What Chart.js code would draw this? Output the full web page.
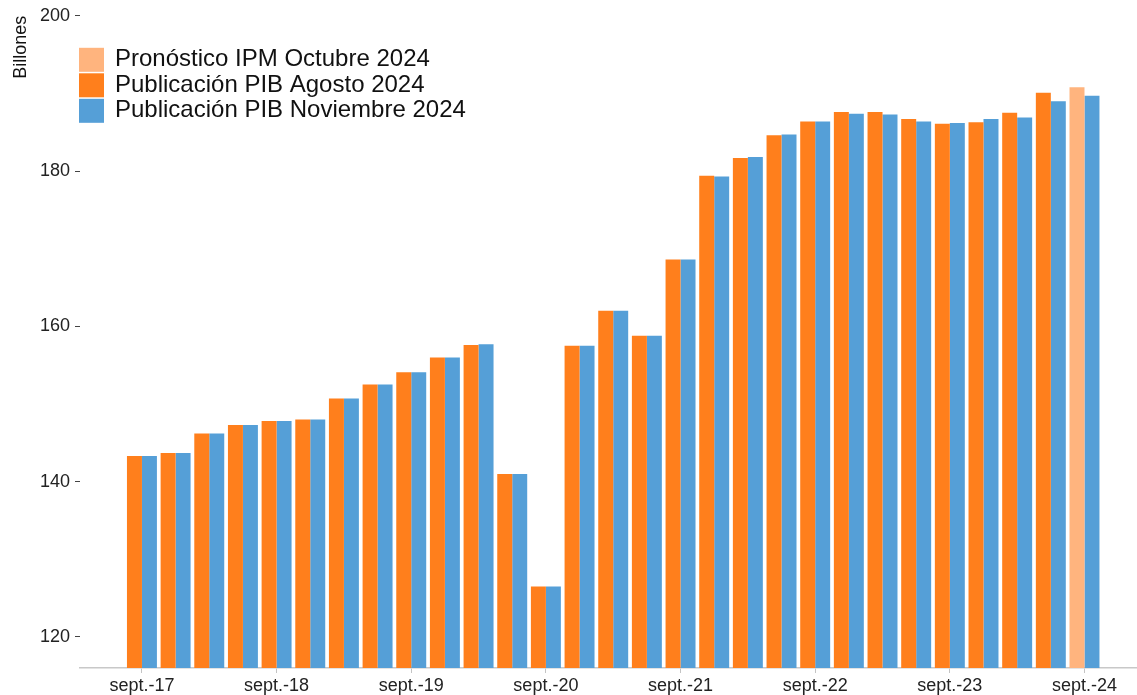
<!DOCTYPE html>
<html>
<head>
<meta charset="utf-8">
<script src="https://cdn.jsdelivr.net/npm/chart.js@4.4.0/dist/chart.umd.min.js"></script>
<style>
  html, body { margin: 0; padding: 0; background: #fff; }
  #wrap { width: 1137px; height: 695px; position: relative; }
</style>
</head>
<body>
<div id="wrap"><canvas id="pibChart"></canvas></div>
<script>
// trimestres (eje x)
const quarters = [
    'sept.-17', 'dic.-17', 'mar.-18', 'jun.-18', 'sept.-18', 'dic.-18',
    'mar.-19', 'jun.-19', 'sept.-19', 'dic.-19', 'mar.-20', 'jun.-20',
    'sept.-20', 'dic.-20', 'mar.-21', 'jun.-21', 'sept.-21', 'dic.-21',
    'mar.-22', 'jun.-22', 'sept.-22', 'dic.-22', 'mar.-23', 'jun.-23',
    'sept.-23', 'dic.-23', 'mar.-24', 'jun.-24', 'sept.-24'
];

// billones
const pibAgosto = [
    143.3, 143.7, 146.2, 147.3, 147.8, 148.0, 150.7, 152.5, 154.1, 156.0,
    157.6, 141.0, 126.5, 157.5, 162.0, 158.8, 168.6, 179.4, 181.7, 184.6,
    186.4, 187.6, 187.6, 186.7, 186.1, 186.3, 187.5, 190.1, null
];
const pibNoviembre = [
    143.3, 143.7, 146.2, 147.3, 147.8, 148.0, 150.7, 152.5, 154.1, 156.0,
    157.7, 141.0, 126.5, 157.5, 162.0, 158.8, 168.6, 179.3, 181.8, 184.7,
    186.4, 187.4, 187.3, 186.4, 186.2, 186.7, 186.9, 189.0, 189.7
];
const pronosticoIPM = [
    null, null, null, null, null, null, null, null, null, null,
    null, null, null, null, null, null, null, null, null, null,
    null, null, null, null, null, null, null, null, 190.8
];

// etiquetas visibles: un tick por año
const xTickIdx = [0, 4, 8, 12, 16, 20, 24, 28];
const yTicks = [120, 140, 160, 180, 200];

const FONT = '"Liberation Sans", Arial, Helvetica, sans-serif';

const toPoints = arr => arr.map((v, i) => ({ x: i, y: v }));

// Leyenda dentro del área del gráfico (arriba a la izquierda)
const insideLegend = {
    id: 'insideLegend',
    afterDraw(chart) {
        const ctx = chart.ctx;
        const left = chart.chartArea.left - 1;
        let y = chart.chartArea.top + 32;
        ctx.save();
        ctx.font = '24px ' + FONT;
        ctx.textBaseline = 'middle';
        ctx.textAlign = 'left';
        chart.data.datasets.forEach(ds => {
            ctx.fillStyle = ds.backgroundColor;
            ctx.fillRect(left, y, 25, 24);
            ctx.fillStyle = '#111';
            ctx.fillText(ds.label, left + 36, y + 12);
            y += 25.5;
        });
        ctx.restore();
    }
};

const ctx = document.getElementById('pibChart').getContext('2d');
const chart = new Chart(ctx, {
    type: 'bar',
    data: {
        datasets: [{
            label: 'Pronóstico IPM Octubre 2024',
            data: toPoints(pronosticoIPM),
            backgroundColor: '#ffb47e',
            stack: 'agosto'
        }, {
            label: 'Publicación PIB Agosto 2024',
            data: toPoints(pibAgosto),
            backgroundColor: '#ff7f1c',
            stack: 'agosto'
        }, {
            label: 'Publicación PIB Noviembre 2024',
            data: toPoints(pibNoviembre),
            backgroundColor: '#559fd7',
            stack: 'noviembre'
        }]
    },
    options: {
        responsive: true,
        maintainAspectRatio: false,
        animation: false,
        layout: { padding: { top: 15, left: 0, right: 0, bottom: 0 } },
        datasets: {
            bar: { categoryPercentage: 0.89, barPercentage: 1.0, borderWidth: 0 }
        },
        plugins: {
            legend: { display: false },
            tooltip: { enabled: false }
        },
        scales: {
            x: {
                type: 'linear',
                min: -1.84,
                max: 29.56,
                offset: false,
                afterBuildTicks: (scale) => {
                    scale.ticks = xTickIdx.map(v => ({ value: v }));
                },
                afterFit: (scale) => { scale.height = 27; },
                ticks: {
                    autoSkip: false,
                    maxRotation: 0,
                    padding: 2,
                    color: '#222',
                    font: { family: FONT, size: 18 },
                    callback: (value) => quarters[value]
                },
                grid: {
                    display: true,
                    offset: false,
                    drawOnChartArea: false,
                    drawTicks: true,
                    tickLength: 5,
                    tickColor: '#c4c4c4'
                },
                border: { display: true, color: '#c8c8c8', width: 1.5 }
            },
            y: {
                stacked: false,
                min: 116,
                max: 200,
                afterBuildTicks: (scale) => {
                    scale.ticks = yTicks.map(v => ({ value: v }));
                },
                afterFit: (scale) => { scale.width = 80; },
                ticks: {
                    padding: 5,
                    color: '#222',
                    font: { family: FONT, size: 18 }
                },
                grid: {
                    display: true,
                    drawOnChartArea: false,
                    drawTicks: true,
                    tickLength: 5,
                    tickColor: '#444'
                },
                border: { display: false },
                title: {
                    display: true,
                    text: 'Billones',
                    align: 'end',
                    color: '#111',
                    padding: { top: 10, bottom: 0 },
                    font: { family: FONT, size: 18 }
                }
            }
        }
    },
    plugins: [insideLegend]
});
</script>
</body>
</html>
